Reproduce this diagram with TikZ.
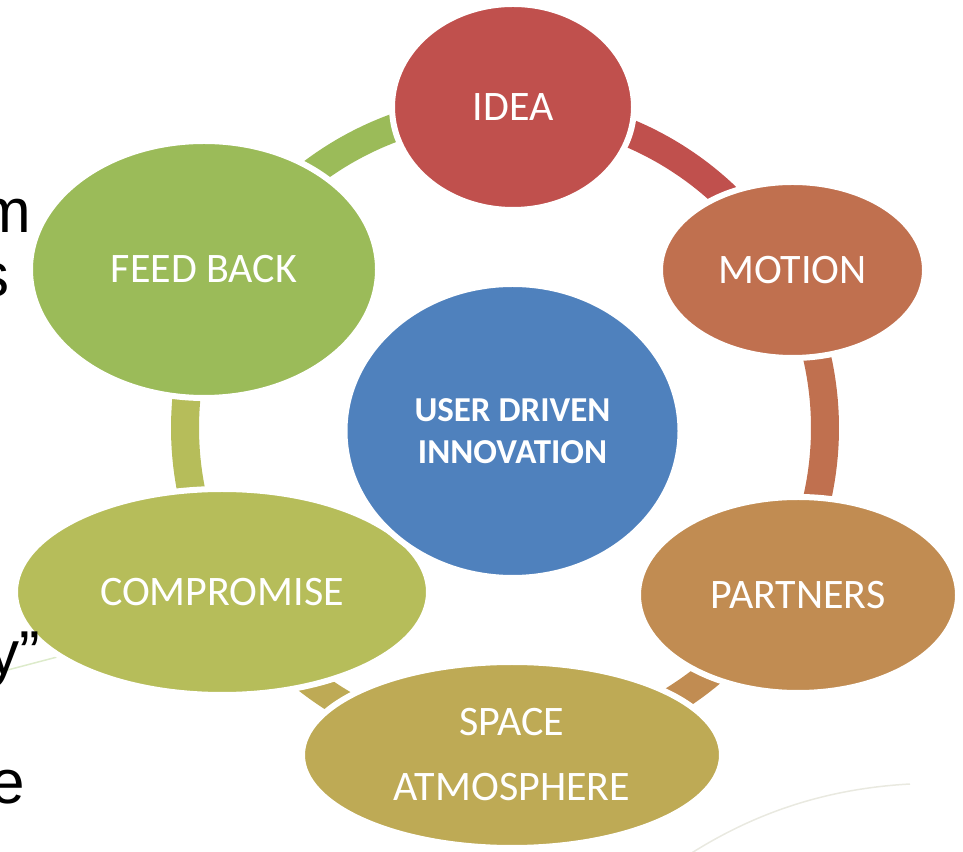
\documentclass[tikz,border=0pt]{standalone}
\usepackage{fontspec}
\setmainfont{Carlito}
\newfontfamily\arialf{Liberation Sans}
\usetikzlibrary{shapes.geometric}
\definecolor{cIdea}{HTML}{C0504D}
\definecolor{cMotion}{HTML}{C0704F}
\definecolor{cPartners}{HTML}{C18C52}
\definecolor{cSpace}{HTML}{BEAA55}
\definecolor{cComp}{HTML}{B6BD5A}
\definecolor{cFeed}{HTML}{9BBB59}
\definecolor{cCenter}{HTML}{4F81BD}
\definecolor{cFaintG}{HTML}{DDEBCB}
\definecolor{cFaintR}{HTML}{E9E9E0}
\begin{document}
\begin{tikzpicture}[x=1pt,y=1pt,
  bub/.style={ellipse, draw=white, line width=6pt, inner sep=0pt, text=white,
    font=\fontsize{42}{65}\selectfont, align=center},
  ringseg/.style={line width=28pt},
  sidetxt/.style={anchor=base east, inner sep=0pt, font=\arialf\fontsize{62}{64}\selectfont, text=black}]
\useasboundingbox (0,0) rectangle (963,851);
% faint background strokes
\draw[cFaintG, line width=1.5pt] (0,179) -- (80,200);
\draw[cFaintR, line width=1.5pt] (690,-3) .. controls (750,35) and (820,62) .. (910,67);
% ring segments
\coordinate (rc) at (505,423);
\draw[ringseg, cIdea] (rc) ++(88.6:320) arc[start angle=88.6, end angle=28.8, radius=320];
\draw[ringseg, cMotion] (rc) ++(28.8:320) arc[start angle=28.8, end angle=-29.7, radius=320];
\draw[ringseg, cPartners] (rc) ++(-29.7:320) arc[start angle=-29.7, end angle=-88.8, radius=320];
\draw[ringseg, cSpace] (rc) ++(-88.8:320) arc[start angle=-88.8, end angle=-149.9, radius=320];
\draw[ringseg, cComp] (rc) ++(-149.9:320) arc[start angle=-149.9, end angle=-207.8, radius=320];
\draw[ringseg, cFeed] (rc) ++(152.2:320) arc[start angle=152.2, end angle=88.6, radius=320];
% nodes
\node[bub, fill=cIdea, minimum width=242pt, minimum height=206pt] (idea) at (513,744) {IDEA};
\node[bub, fill=cMotion, minimum width=265pt, minimum height=176pt] (motion) at (792.5,581) {MOTION};
\node[bub, fill=cPartners, minimum width=320pt, minimum height=196pt] (partners) at (798,256) {PARTNERS};
\node[bub, fill=cSpace, minimum width=420pt, minimum height=186pt] (space) at (512,96) {SPACE\\ATMOSPHERE};
\node[bub, fill=cComp, minimum width=414pt, minimum height=206pt] (comp) at (222,259) {COMPROMISE};
\node[bub, fill=cFeed, minimum width=348pt, minimum height=257pt] (feed) at (204,581.5) {FEED BACK};
\node[bub, fill=cCenter, minimum width=336pt, minimum height=294pt,
  font=\fontsize{35}{42}\selectfont\bfseries] (center) at (512.5,420) {USER DRIVEN\\INNOVATION};
% cut-off slide text at the left edge
\node[sidetxt] (tm) at (31,618) {m};
\node[sidetxt] (ts) at (10,554) {s};
\node[sidetxt] (ty) at (40,176) {y”};
\node[sidetxt] (te) at (25,48) {e};
\end{tikzpicture}
\end{document}
